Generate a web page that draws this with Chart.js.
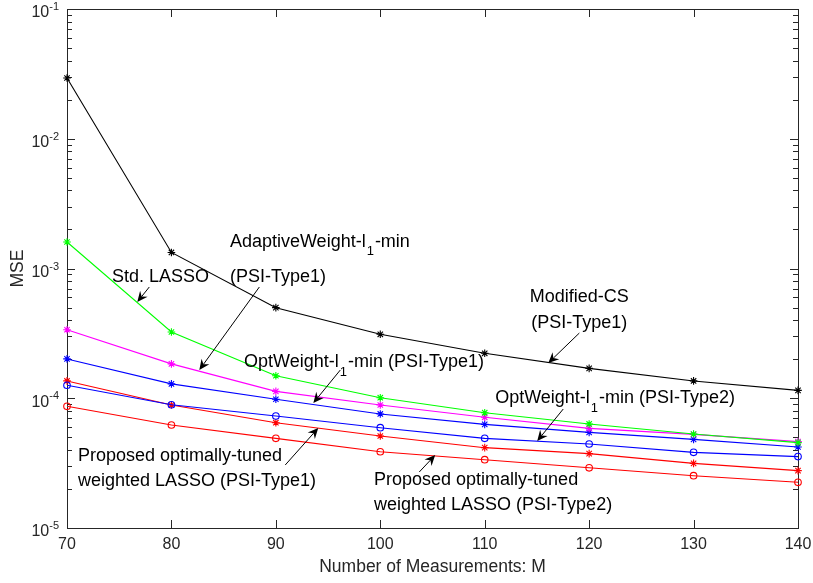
<!DOCTYPE html>
<html>
<head>
<meta charset="utf-8">
<script src="https://cdn.jsdelivr.net/npm/chart.js@4"></script>
<style>
  html, body { margin: 0; padding: 0; background: #fff; }
  #wrap { width: 813px; height: 583px; position: relative; }
</style>
</head>
<body>
<div id="wrap"><canvas id="c"></canvas></div>
<script>
// Number of measurements M
const measurements = [70, 80, 90, 100, 110, 120, 130, 140];

// MSE of each method
const modifiedCS      = [2.94e-2, 1.33e-3, 4.99e-4, 3.11e-4, 2.22e-4, 1.70e-4, 1.36e-4, 1.15e-4];
const stdLasso        = [1.60e-3, 3.24e-4, 1.49e-4, 1.01e-4, 7.74e-5, 6.34e-5, 5.30e-5, 4.55e-5];
const adaptiveWeight1 = [3.37e-4, 1.84e-4, 1.13e-4, 8.87e-5, 7.13e-5, 5.86e-5, 5.27e-5, 4.63e-5];
const optWeight1      = [2.01e-4, 1.29e-4, 9.82e-5, 7.57e-5, 6.29e-5, 5.46e-5, 4.82e-5, 4.21e-5];
const optWeight2      = [1.26e-4, 8.91e-5, 7.30e-5, 5.93e-5, 4.91e-5, 4.44e-5, 3.83e-5, 3.55e-5];
const proposed1       = [1.36e-4, 8.87e-5, 6.48e-5, 5.12e-5, 4.16e-5, 3.74e-5, 3.15e-5, 2.77e-5];
const proposed2       = [8.67e-5, 6.22e-5, 4.91e-5, 3.87e-5, 3.36e-5, 2.91e-5, 2.53e-5, 2.25e-5];

// Axis ticks
const xTicks = [70, 80, 90, 100, 110, 120, 130, 140];
const yTickExponents = [-5, -4, -3, -2, -1];

// Callout texts with arrows (anchors in data units: M, MSE)
const callouts = [
  { lines: ['Std. LASSO'], x: 74.3, y: [8.60e-4], align: 'left',
    from: [77.88, 7.20e-4], to: [76.73, 5.52e-4] },
  { lines: ['AdaptiveWeight-l_1-min', '(PSI-Type1)'], x: 85.6, y: [1.60e-3, 8.60e-4], align: 'left',
    from: [88.42, 7.20e-4], to: [82.67, 1.65e-4] },
  { lines: ['OptWeight-l_1-min (PSI-Type1)'], x: 86.95, y: [1.90e-4], align: 'left',
    from: [96.17, 1.65e-4], to: [93.59, 9.19e-5] },
  { lines: ['Modified-CS', '(PSI-Type1)'], x: 119.06, y: [6.03e-4, 3.80e-4], align: 'center',
    from: [119.06, 3.18e-4], to: [116.09, 1.87e-4] },
  { lines: ['OptWeight-l_1-min (PSI-Type2)'], x: 111.0, y: [1.00e-4], align: 'left',
    from: [117.52, 8.26e-5], to: [115.03, 4.68e-5] },
  { lines: ['Proposed optimally-tuned', 'weighted LASSO (PSI-Type1)'], x: 71.05, y: [3.59e-5, 2.30e-5], align: 'left',
    from: [90.90, 3.06e-5], to: [94.06, 5.90e-5] },
  { lines: ['Proposed optimally-tuned', 'weighted LASSO (PSI-Type2)'], x: 99.4, y: [2.34e-5, 1.50e-5], align: 'left',
    from: [103.73, 2.70e-5], to: [105.26, 3.65e-5] }
];

const FONT = "'Liberation Sans', Arial, Helvetica, sans-serif";
const AXIS_COLOR = '#262626';

function series(values, color, marker) {
  return {
    data: measurements.map((m, i) => ({ x: m, y: values[i] })),
    borderColor: color,
    borderWidth: 1.1,
    pointStyle: marker,
    pointRadius: marker === 'star' ? 3.8 : 3.3,
    pointBorderColor: color,
    pointBackgroundColor: 'rgba(0,0,0,0)',
    pointBorderWidth: 1.1,
    tension: 0,
    fill: false,
    clip: false
  };
}

// Draws a text run where "_1" becomes a subscript
function drawRichText(ctx, text, x, y, align, size) {
  const parts = [];
  const re = /_(\w)/g;
  let last = 0, m;
  while ((m = re.exec(text)) !== null) {
    if (m.index > last) parts.push({ t: text.slice(last, m.index), sub: false });
    parts.push({ t: m[1], sub: true });
    last = m.index + m[0].length;
  }
  if (last < text.length) parts.push({ t: text.slice(last), sub: false });

  const subSize = Math.round(size * 0.72);
  let total = 0;
  parts.forEach(p => {
    ctx.font = (p.sub ? subSize : size) + 'px ' + FONT;
    p.w = ctx.measureText(p.t).width + (p.sub ? 2 : 0);
    total += p.w;
  });
  let cx = align === 'center' ? x - total / 2 : x;
  ctx.textAlign = 'left';
  ctx.textBaseline = 'middle';
  parts.forEach(p => {
    ctx.font = (p.sub ? subSize : size) + 'px ' + FONT;
    ctx.fillText(p.t, cx + (p.sub ? 1 : 0), y + (p.sub ? size * 0.55 : 0));
    cx += p.w;
  });
}

function drawArrow(ctx, x1, y1, x2, y2) {
  const ang = Math.atan2(y2 - y1, x2 - x1);
  const len = 10.5, half = 4.8, notch = 7;
  ctx.beginPath();
  ctx.moveTo(x1, y1);
  ctx.lineTo(x2 - Math.cos(ang) * notch, y2 - Math.sin(ang) * notch);
  ctx.stroke();
  const bx = x2 - Math.cos(ang) * len, by = y2 - Math.sin(ang) * len;
  const nx = -Math.sin(ang), ny = Math.cos(ang);
  ctx.beginPath();
  ctx.moveTo(x2, y2);
  ctx.lineTo(bx + nx * half, by + ny * half);
  ctx.lineTo(x2 - Math.cos(ang) * notch, y2 - Math.sin(ang) * notch);
  ctx.lineTo(bx - nx * half, by - ny * half);
  ctx.closePath();
  ctx.fill();
}

const axesPlugin = {
  id: 'boxedAxes',
  beforeDatasetsDraw(chart) {
    const ctx = chart.ctx;
    const xs = chart.scales.x, ys = chart.scales.y;
    const { left, right, top, bottom } = chart.chartArea;
    ctx.save();
    ctx.strokeStyle = AXIS_COLOR;
    ctx.lineWidth = 1;
    ctx.strokeRect(Math.round(left) + 0.5, Math.round(top) + 0.5,
                   Math.round(right - left), Math.round(bottom - top));
    ctx.beginPath();
    // x ticks, bottom and top
    xTicks.forEach(v => {
      const px = Math.round(xs.getPixelForValue(v)) + 0.5;
      ctx.moveTo(px, bottom); ctx.lineTo(px, bottom - 8);
      ctx.moveTo(px, top); ctx.lineTo(px, top + 8);
    });
    // y major and minor ticks, left and right
    yTickExponents.forEach((e, i) => {
      const py = Math.round(ys.getPixelForValue(Math.pow(10, e))) + 0.5;
      ctx.moveTo(left, py); ctx.lineTo(left + 8, py);
      ctx.moveTo(right, py); ctx.lineTo(right - 8, py);
      if (i < yTickExponents.length - 1) {
        for (let k = 2; k <= 9; k++) {
          const pm = Math.round(ys.getPixelForValue(k * Math.pow(10, e))) + 0.5;
          ctx.moveTo(left, pm); ctx.lineTo(left + 5, pm);
          ctx.moveTo(right, pm); ctx.lineTo(right - 5, pm);
        }
      }
    });
    ctx.stroke();
    ctx.restore();
  },
  afterDatasetsDraw(chart) {
    const ctx = chart.ctx;
    const xs = chart.scales.x, ys = chart.scales.y;
    const { left, right, top, bottom } = chart.chartArea;
    ctx.save();
    ctx.fillStyle = AXIS_COLOR;
    // x tick labels
    ctx.font = '16px ' + FONT;
    ctx.textAlign = 'center';
    ctx.textBaseline = 'middle';
    xTicks.forEach(v => {
      ctx.fillText(String(v), xs.getPixelForValue(v), bottom + 17);
    });
    // y tick labels: 10^e
    yTickExponents.forEach(e => {
      const py = ys.getPixelForValue(Math.pow(10, e));
      const sup = String(e);
      ctx.font = '11px ' + FONT;
      const ws = ctx.measureText(sup).width;
      ctx.font = '16px ' + FONT;
      const wb = ctx.measureText('10').width;
      const xr = left - 8;
      ctx.textAlign = 'left';
      ctx.fillText('10', xr - ws - wb, py + 4);
      ctx.font = '11px ' + FONT;
      ctx.fillText(sup, xr - ws, py - 2);
    });
    // axis titles
    ctx.font = '17.5px ' + FONT;
    ctx.textAlign = 'center';
    ctx.fillText('Number of Measurements: M', (left + right) / 2, bottom + 39);
    ctx.save();
    ctx.translate(18, (top + bottom) / 2);
    ctx.rotate(-Math.PI / 2);
    ctx.fillText('MSE', 0, 0);
    ctx.restore();

    // callouts
    ctx.fillStyle = '#000';
    ctx.strokeStyle = '#000';
    ctx.lineWidth = 1;
    callouts.forEach(c => {
      const px = xs.getPixelForValue(c.x);
      c.lines.forEach((line, i) => {
        drawRichText(ctx, line, px, ys.getPixelForValue(c.y[i]), c.align, 18);
      });
      drawArrow(ctx,
        xs.getPixelForValue(c.from[0]), ys.getPixelForValue(c.from[1]),
        xs.getPixelForValue(c.to[0]), ys.getPixelForValue(c.to[1]));
    });
    ctx.restore();
  }
};

new Chart(document.getElementById('c'), {
  type: 'line',
  data: {
    datasets: [
      series(modifiedCS, '#000000', 'star'),
      series(stdLasso, '#00ff00', 'star'),
      series(adaptiveWeight1, '#ff00ff', 'star'),
      series(optWeight1, '#0000ff', 'star'),
      series(optWeight2, '#0000ff', 'circle'),
      series(proposed1, '#ff0000', 'star'),
      series(proposed2, '#ff0000', 'circle')
    ]
  },
  options: {
    responsive: true,
    maintainAspectRatio: false,
    animation: false,
    layout: { padding: { left: 67, right: 15, top: 9, bottom: 55 } },
    scales: {
      x: { type: 'linear', min: 70, max: 140, display: false },
      y: { type: 'logarithmic', min: 1e-5, max: 1e-1, display: false }
    },
    plugins: { legend: { display: false }, tooltip: { enabled: false } }
  },
  plugins: [axesPlugin]
});
</script>
</body>
</html>
